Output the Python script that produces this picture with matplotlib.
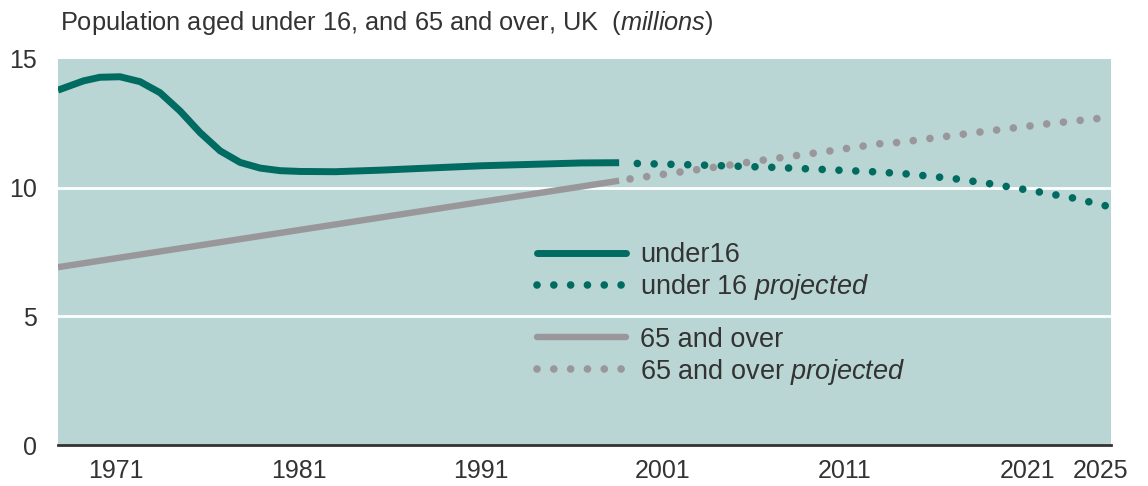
import numpy as np
import matplotlib
matplotlib.use("Agg")
import matplotlib.pyplot as plt

plt.rcParams['font.family'] = ['Liberation Sans', 'DejaVu Sans']
plt.rcParams['mathtext.fontset'] = 'custom'
plt.rcParams['mathtext.rm'] = 'Liberation Sans'
plt.rcParams['mathtext.it'] = 'Liberation Sans:italic'

# data (millions)
years_u16 = [1967.8, 1969.2, 1970.1, 1971.2, 1972.3, 1973.4, 1974.5, 1975.6, 1976.7,
             1977.8, 1978.9, 1980.0, 1981.1, 1983.0, 1985.5, 1991.0, 1996.5, 1998.6]
under16 = [13.79, 14.15, 14.29, 14.31, 14.12, 13.69, 12.98, 12.14, 11.43,
           10.98, 10.76, 10.66, 10.63, 10.62, 10.68, 10.85, 10.96, 10.97]

years_u16_proj = [1999.6, 2003.0, 2007.0, 2010.0, 2012.5, 2014.3, 2017.0, 2018.9, 2021.6, 2023.5, 2025.4]
under16_proj = [10.94, 10.88, 10.79, 10.70, 10.62, 10.54, 10.35, 10.16, 9.84, 9.60, 9.28]

years_65 = [1967.8, 1998.6]
over65 = [6.91, 10.27]

years_65_proj = [1999.2, 2003.8, 2006.5, 2010.2, 2012.8, 2014.0, 2018.5, 2022.1, 2024.9]
over65_proj = [10.34, 10.79, 11.07, 11.43, 11.70, 11.76, 12.17, 12.48, 12.69]

xticks = [1971, 1981, 1991, 2001, 2011, 2021, 2025]
yticks = [0, 5, 10, 15]

teal = '#006b60'
grey = '#9a979b'
bg = '#b9d5d4'
txt = '#333333'

fig = plt.figure(figsize=(11.48, 4.86), dpi=100)
ax = fig.add_axes([58/1148, 1-445/486, 1053/1148, 386/486])
ax.set_facecolor(bg)

for y in [5, 10]:
    ax.axhline(y, color='white', lw=2, zorder=1)

dots = (0, (0.001, 2.2))
l1, = ax.plot(years_u16, under16, color=teal, lw=5, solid_capstyle='butt',
              solid_joinstyle='round', zorder=3, label='under16')
l2, = ax.plot(years_u16_proj, under16_proj, color=teal, lw=5.5, linestyle=dots,
              dash_capstyle='round', zorder=3, label='under 16 $\\mathit{projected}$')
l3, = ax.plot(years_65, over65, color=grey, lw=4.6, solid_capstyle='butt', zorder=2, label='65 and over')
l4, = ax.plot(years_65_proj, over65_proj, color=grey, lw=5.5, linestyle=dots,
              dash_capstyle='round', zorder=2, label='65 and over $\\mathit{projected}$')

ax.set_xlim(1967.8, 2025.6)
ax.set_ylim(0, 15)
ax.set_xticks(xticks)
ax.set_xticklabels([str(t) for t in xticks])
ax.set_yticks(yticks)
ax.tick_params(axis='both', length=0, labelsize=18, colors=txt)
ax.tick_params(axis='x', pad=10)
ax.tick_params(axis='y', pad=15)
for s in ['top', 'left', 'right']:
    ax.spines[s].set_visible(False)
ax.spines['bottom'].set_color(txt)
ax.spines['bottom'].set_linewidth(2)
ax.spines['bottom'].set_zorder(4)

leg1 = ax.legend(handles=[l1, l2], loc='upper left', bbox_to_anchor=(0.455, 0.525),
                 frameon=False, fontsize=19.5, handlelength=3.3, handletextpad=0.5,
                 borderpad=0, borderaxespad=0, labelspacing=0.15, labelcolor=txt)
ax.add_artist(leg1)
leg2 = ax.legend(handles=[l3, l4], loc='upper left', bbox_to_anchor=(0.455, 0.306),
                 frameon=False, fontsize=19.5, handlelength=3.3, handletextpad=0.5,
                 borderpad=0, borderaxespad=0, labelspacing=0.15, labelcolor=txt)
for leg in (leg1, leg2):
    leg.legend_handles[0].set_solid_capstyle('round')

fig.text(60/1148, 1-23/486, 'Population aged under 16, and 65 and over, UK  $\\mathit{(millions)}$',
         fontsize=18.3, color=txt, va='center', ha='left')

fig.savefig('out.png', dpi=100)
